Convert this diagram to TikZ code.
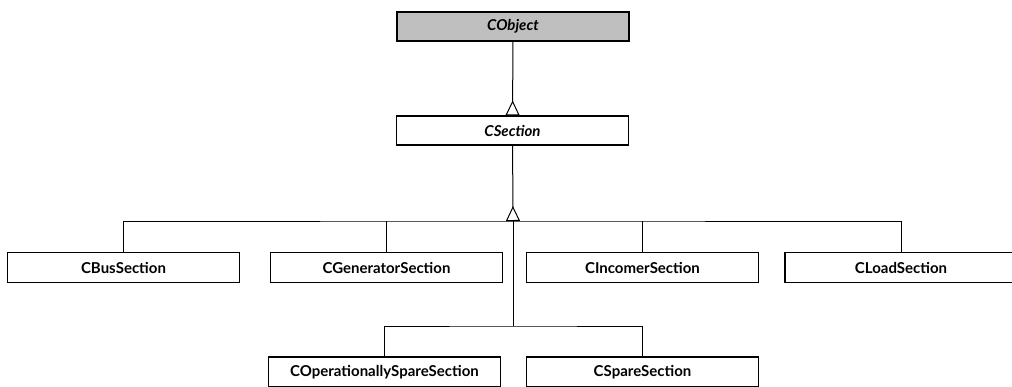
\documentclass[tikz,border=0pt]{standalone}
\usepackage{fontspec}
\setmainfont{Lato}
\usetikzlibrary{arrows.meta}

\begin{document}
\begin{tikzpicture}[
    x=1pt, y=-1pt,
    cls/.style={draw, rectangle, line width=1.2pt, minimum width=232pt, minimum height=30pt, inner sep=0pt, font=\bfseries\fontsize{15}{17}\selectfont},
    abstractcls/.style={cls, minimum height=29pt, font=\bfseries\itshape\fontsize{15}{17}\selectfont},
    inherit/.style={-{Triangle[open, reversed, length=15pt, width=14pt, line width=1pt]}, line width=1pt},
    link/.style={line width=1pt}
]
    \useasboundingbox (0,0) rectangle (1012,386);
    \clip (0,0) rectangle (1012,386);

    % base classes
    \node[abstractcls, fill=gray!50] (cobject) at (513,26.5) {CObject};
    \node[abstractcls] (csection) at (512.5,130.5) {CSection};

    % first row of subclasses
    \node[cls] (cbus) at (123.5,267.5) {CBusSection};
    \node[cls] (cgen) at (386.5,267.5) {CGeneratorSection};
    \node[cls] (cinc) at (642.5,267.5) {CIncomerSection};
    \node[cls] (cload) at (901,267.5) {CLoadSection};

    % second row
    \node[cls] (coper) at (384.5,372) {COperationallySpareSection};
    \node[cls] (cspare) at (642.5,372) {CSpareSection};

    \coordinate (bus) at (513,221);
    \coordinate (bus2) at (513,326);

    \draw[inherit] (cobject) -- (csection);
    \draw[inherit] (csection) -- (bus);

    % horizontal bus and drops
    \draw[link] (cbus.north) |- (bus) -| (cload.north);
    \foreach \n in {cgen,cinc}
        \draw[link] (\n.north) -- (\n.north |- bus);
    \draw[link] (bus) -- (bus2);
    \draw[link] (coper.north) |- (bus2) -| (cspare.north);
\end{tikzpicture}
\end{document}
